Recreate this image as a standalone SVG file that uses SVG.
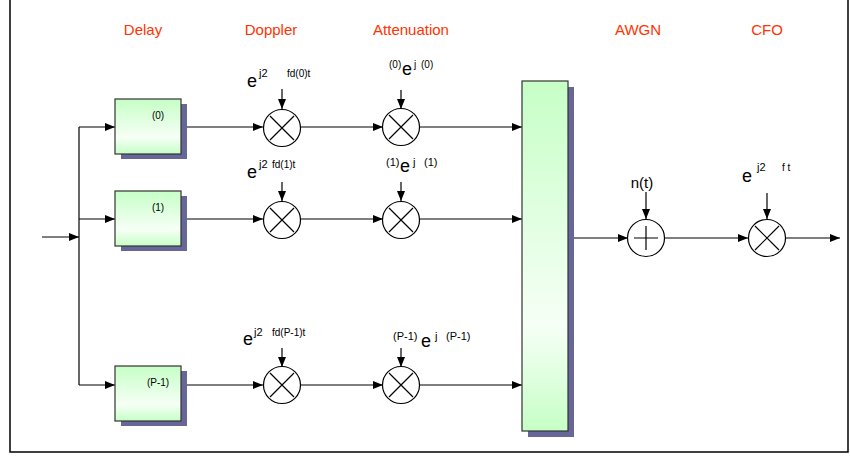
<svg xmlns="http://www.w3.org/2000/svg" width="850" height="457" viewBox="0 0 850 457">
<defs>
<linearGradient id="gb" x1="0" y1="0" x2="0" y2="1">
<stop offset="0" stop-color="#c6ffc6"/>
<stop offset="0.7" stop-color="#f6fff6"/>
<stop offset="1" stop-color="#c6ffc6"/>
</linearGradient>
<marker id="ar" markerWidth="10" markerHeight="8" refX="10" refY="4" orient="auto" markerUnits="userSpaceOnUse">
<path d="M0,0 L10,4 L0,8 Z" fill="#000"/>
</marker>
<style>
.hd{font-family:"Liberation Sans",Arial,sans-serif;font-size:15px;fill:#ff3300;text-anchor:middle}
.t{font-family:"Liberation Sans",Arial,sans-serif;fill:#000}
.e{font-size:18px}
.s{font-size:11px}
.m{font-size:10px}
.c{fill:none;stroke:#000;stroke-width:1.2}
.w{fill:#fff;stroke:#000;stroke-width:1.2}
.sh{fill:#666699}
.bx{fill:url(#gb);stroke:#333;stroke-width:1.2}
.ln{fill:none;stroke:#000;stroke-width:1.2}
</style>
</defs>
<rect width="850" height="457" fill="#fff"/>
<path d="M10,0 V452 H848 V0" fill="none" stroke="#000" stroke-width="1.5"/>
<g id="headers">
<text class="hd" x="143" y="35">Delay</text>
<text class="hd" x="271" y="35">Doppler</text>
<text class="hd" x="411" y="35">Attenuation</text>
<text class="hd" x="638" y="35">AWGN</text>
<text class="hd" x="767" y="35">CFO</text>
</g>
<g id="connectors">
<line class="ln" x1="42" y1="237" x2="79" y2="237" marker-end="url(#ar)"/>
<line class="ln" x1="79" y1="127" x2="79" y2="385"/>
<line class="ln" x1="79" y1="127" x2="115" y2="127" marker-end="url(#ar)"/>
<line class="ln" x1="79" y1="219" x2="115" y2="219" marker-end="url(#ar)"/>
<line class="ln" x1="79" y1="385" x2="115" y2="385" marker-end="url(#ar)"/>
<line class="ln" x1="181" y1="127" x2="263" y2="127" marker-end="url(#ar)"/>
<line class="ln" x1="181" y1="219" x2="263" y2="219" marker-end="url(#ar)"/>
<line class="ln" x1="181" y1="385" x2="263" y2="385" marker-end="url(#ar)"/>
<line class="ln" x1="300" y1="127" x2="383" y2="127" marker-end="url(#ar)"/>
<line class="ln" x1="300" y1="219" x2="383" y2="219" marker-end="url(#ar)"/>
<line class="ln" x1="300" y1="385" x2="383" y2="385" marker-end="url(#ar)"/>
<line class="ln" x1="420" y1="127" x2="522" y2="127" marker-end="url(#ar)"/>
<line class="ln" x1="420" y1="219" x2="522" y2="219" marker-end="url(#ar)"/>
<line class="ln" x1="420" y1="385" x2="522" y2="385" marker-end="url(#ar)"/>
<line class="ln" x1="282" y1="89" x2="282" y2="109" marker-end="url(#ar)"/>
<line class="ln" x1="282" y1="182" x2="282" y2="201" marker-end="url(#ar)"/>
<line class="ln" x1="282" y1="348" x2="282" y2="367" marker-end="url(#ar)"/>
<line class="ln" x1="401" y1="90" x2="401" y2="109" marker-end="url(#ar)"/>
<line class="ln" x1="401" y1="182" x2="401" y2="201" marker-end="url(#ar)"/>
<line class="ln" x1="401" y1="348" x2="401" y2="367" marker-end="url(#ar)"/>
<line class="ln" x1="568" y1="238" x2="628" y2="238" marker-end="url(#ar)"/>
<line class="ln" x1="665" y1="238" x2="748" y2="238" marker-end="url(#ar)"/>
<line class="ln" x1="786" y1="238" x2="840" y2="238" marker-end="url(#ar)"/>
<line class="ln" x1="646" y1="192" x2="646" y2="219" marker-end="url(#ar)"/>
<line class="ln" x1="767" y1="193" x2="767" y2="219" marker-end="url(#ar)"/>
</g>
<g id="delay0">
<rect class="sh" x="121" y="104" width="66" height="55"/>
<rect class="bx" x="115" y="99" width="66" height="55"/>
<text class="t m" x="158" y="119" text-anchor="middle">(0)</text>
</g>
<g id="delay1">
<rect class="sh" x="121" y="196" width="66" height="55"/>
<rect class="bx" x="115" y="191" width="66" height="55"/>
<text class="t m" x="158" y="211" text-anchor="middle">(1)</text>
</g>
<g id="delayP">
<rect class="sh" x="121" y="371" width="66" height="55"/>
<rect class="bx" x="115" y="366" width="66" height="55"/>
<text class="t m" x="158" y="386" text-anchor="middle">(P-1)</text>
</g>
<g id="doppler0">
<circle class="w" cx="282" cy="128" r="18.5"/>
<path class="c" d="M270,116 L294,140 M294,116 L270,140"/>
<text class="t" x="247" y="87"><tspan class="e">e</tspan><tspan class="s" x="259" y="77">j2</tspan><tspan class="m" x="287" y="77">fd(0)t</tspan></text>
</g>
<g id="doppler1">
<circle class="w" cx="282" cy="220" r="18.5"/>
<path class="c" d="M270,208 L294,232 M294,208 L270,232"/>
<text class="t" x="247" y="178"><tspan class="e">e</tspan><tspan class="s" x="259" y="168">j2</tspan><tspan class="m" x="272" y="168">fd(1)t</tspan></text>
</g>
<g id="dopplerP">
<circle class="w" cx="282" cy="385" r="18.5"/>
<path class="c" d="M270,373 L294,397 M294,373 L270,397"/>
<text class="t" x="243" y="345"><tspan class="e">e</tspan><tspan class="s" x="254" y="336">j2</tspan><tspan class="m" x="272" y="336">fd(P-1)t</tspan></text>
</g>
<g id="atten0">
<circle class="w" cx="401" cy="127" r="18.5"/>
<path class="c" d="M389,115 L413,139 M413,115 L389,139"/>
<text class="t" x="389" y="68"><tspan class="m">(0)</tspan><tspan class="e" x="402" y="75">e</tspan><tspan class="m" x="414" y="68">j</tspan><tspan class="m" x="421" y="68">(0)</tspan></text>
</g>
<g id="atten1">
<circle class="w" cx="401" cy="220" r="18.5"/>
<path class="c" d="M389,208 L413,232 M413,208 L389,232"/>
<text class="t" x="386" y="166"><tspan class="s">(1)</tspan><tspan class="e" x="400" y="172">e</tspan><tspan class="s" x="413" y="166">j</tspan><tspan class="s" x="424" y="166">(1)</tspan></text>
</g>
<g id="attenP">
<circle class="w" cx="401" cy="385" r="18.5"/>
<path class="c" d="M389,373 L413,397 M413,373 L389,397"/>
<text class="t" x="393" y="340"><tspan class="s">(P-1)</tspan><tspan class="e" x="421" y="347">e</tspan><tspan class="s" x="435" y="340">j</tspan><tspan class="s" x="446" y="340">(P-1)</tspan></text>
</g>
<g id="sum">
<rect class="sh" x="528" y="87" width="46" height="350"/>
<rect class="bx" x="522" y="81" width="46" height="350"/>
</g>
<g id="awgn">
<circle class="w" cx="646" cy="238" r="18.5"/>
<path class="c" d="M634,238 H658 M646,226 V250"/>
<text class="t" x="642" y="188" font-size="15" text-anchor="middle">n(t)</text>
</g>
<g id="cfo">
<circle class="w" cx="767" cy="238" r="18.5"/>
<path class="c" d="M755,226 L779,250 M779,226 L755,250"/>
<text class="t" x="742" y="182"><tspan class="e">e</tspan><tspan class="s" x="757" y="171">j2</tspan><tspan class="m" x="782" y="171">f t</tspan></text>
</g>
</svg>
